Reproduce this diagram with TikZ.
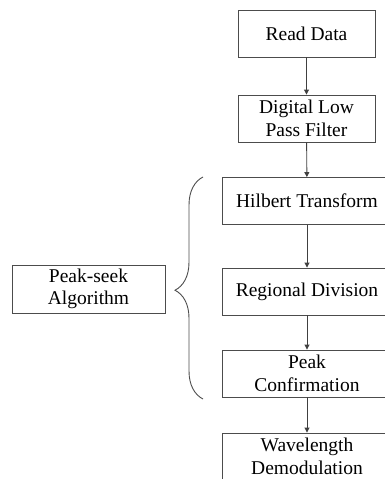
\documentclass[tikz,border=0pt]{standalone}
\usepackage{fontspec}
\setmainfont{Liberation Serif}
\usetikzlibrary{arrows.meta,decorations.pathreplacing}
\tikzset{
  stepbox/.style={draw=black!70,line width=0.9pt,text=black,minimum width=137pt,minimum height=47pt,
    align=center,inner sep=0pt,font=\fontsize{19.5}{22.5}\selectfont},
  widebox/.style={stepbox,minimum width=170pt},
  flow/.style={draw=black!75,line width=0.9pt,-{Triangle[length=5pt,width=5pt]}}
}
\begin{document}
\begin{tikzpicture}[x=1pt,y=-1pt]
\useasboundingbox (0,0) rectangle (385,479);

\node[stepbox] (read)    at (306.5,33.5)  {Read Data};
\node[stepbox] (lowpass) at (306.5,118.5) {Digital Low\\Pass Filter};
\node[widebox] (hilbert) at (307,201)     {Hilbert Transform};
\node[widebox] (region)  at (307,291.5)   {Regional Division};
\node[widebox] (confirm) at (307,373.5)   {Peak\\Confirmation};
\node[widebox] (demod)   at (307,456.5)   {Wavelength\\Demodulation};

\node[stepbox,minimum width=153pt,minimum height=48pt] (peakseek) at (88.5,289) {Peak-seek\\Algorithm};

\draw[flow] (read) -- (lowpass);
\draw[flow] (lowpass) -- (hilbert);
\draw[flow] (hilbert) -- (region);
\draw[flow] (region) -- (confirm);
\draw[flow] (confirm) -- (demod);

% brace round the peak-seek steps
\coordinate (bracebot) at (203,399);
\coordinate (bracetop) at (203,177);
\draw[draw=black!70,line width=0.9pt,decorate,decoration={brace,amplitude=28pt,aspect=0.49}] (bracebot) -- (bracetop);

\end{tikzpicture}
\end{document}
